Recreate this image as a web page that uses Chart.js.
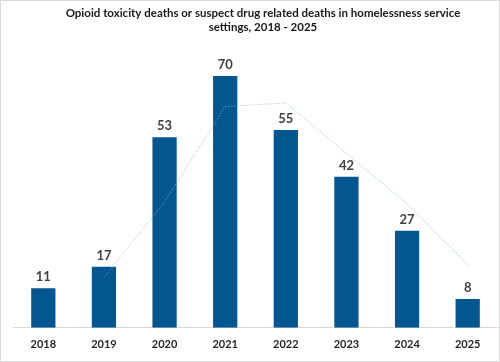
<!DOCTYPE html>
<html>
<head>
<meta charset="utf-8">
<script src="https://cdn.jsdelivr.net/npm/chart.js@4.4.1/dist/chart.umd.min.js"></script>
<style>
  html, body { margin: 0; padding: 0; background: #fff; }
  #wrap { width: 498px; height: 360px; border: 1px solid #d9d9d9; }
</style>
</head>
<body>
<div id="wrap"><canvas id="deathsChart" width="498" height="360"></canvas></div>
<script>
// Chart data
const years = ['2018', '2019', '2020', '2021', '2022', '2023', '2024', '2025'];
const deaths = [11, 17, 53, 70, 55, 42, 27, 8];
// dotted trend line
const trend = [null, 14, 35, 61.5, 62.5, 48.5, 34.5, 17.5];
const titleLines = [
    'Opioid toxicity deaths or suspect drug related deaths in homelessness service',
    'settings, 2018 - 2025'
];

// Draws the title and the value labels above the bars
const labelPlugin = {
    id: 'labelPlugin',
    afterDraw(chart) {
        const ctx = chart.ctx;
        ctx.save();
        ctx.textAlign = 'center';
        ctx.textBaseline = 'middle';
        ctx.fillStyle = '#1a1a1a';
        ctx.font = 'bold 11.5px Lato';
        ctx.fillText(titleLines[0], 262, 12);
        ctx.fillText(titleLines[1], 262, 26);

        // dataset 1 holds the bars
        const meta = chart.getDatasetMeta(1);
        ctx.fillStyle = '#404040';
        ctx.font = 'bold 13px Lato';
        meta.data.forEach((bar, i) => {
            ctx.fillText(deaths[i], bar.x, bar.y - 11);
        });
        ctx.restore();
    }
};

const config = {
    type: 'bar',
    data: {
        labels: years,
        datasets: [{
            type: 'line',
            label: 'Trend',
            data: trend,
            borderColor: '#8EB4E3',
            borderWidth: 1,
            borderDash: [1, 2],
            pointRadius: 0,
            tension: 0,
            fill: false,
            order: 0
        }, {
            label: 'Deaths',
            data: deaths,
            backgroundColor: '#03568F',
            categoryPercentage: 1,
            barPercentage: 0.4,
            order: 1
        }]
    },
    options: {
        responsive: false,
        animation: false,
        layout: {
            padding: { top: 39, left: 12, right: 1, bottom: 0 }
        },
        plugins: {
            legend: { display: false },
            title: { display: false },
            tooltip: { enabled: false }
        },
        scales: {
            x: {
                grid: { display: false, drawTicks: false },
                border: { color: '#d9d9d9', width: 1 },
                ticks: {
                    color: '#262626',
                    font: { family: 'Lato', size: 11, weight: 'bold' },
                    padding: 10
                }
            },
            y: {
                display: false,
                min: 0,
                max: 80
            }
        }
    },
    plugins: [labelPlugin]
};

// Set up the chart
const ctx = document.getElementById('deathsChart').getContext('2d');
const deathsChart = new Chart(ctx, config);
</script>
</body>
</html>
